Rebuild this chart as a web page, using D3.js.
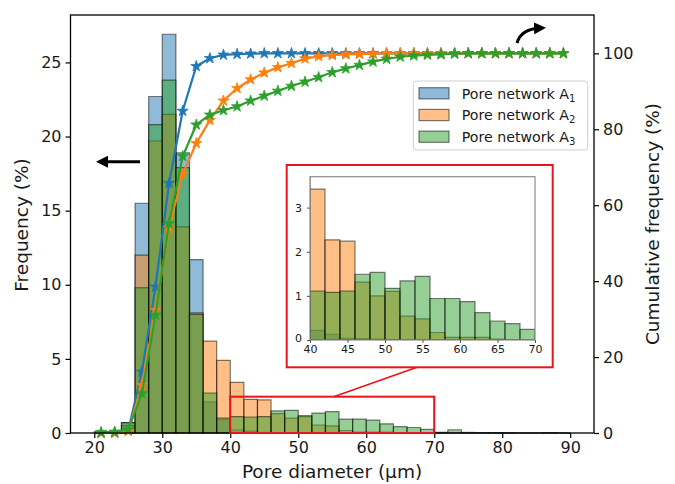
<!DOCTYPE html>
<html>
<head>
<meta charset="utf-8">
<script src="https://cdn.jsdelivr.net/npm/d3@7"></script>
<style>
  body { margin: 0; background: #fff; }
  text { font-family: "DejaVu Sans", sans-serif; fill: #1a1a1a; }
</style>
</head>
<body>
<script>
// histogram bins (left edge, width 2 um)
var binLeft = [20,22,24,26,28,30,32,34,36,38,40,42,44,46,48,50,52,54,56,58,60,62,64,66,68,70,72,74,76,78,80,82,84,86,88];
var binWidth = 2;
// bin centres, where the cumulative points sit
var centers = [21,23,25,27,29,31,33,35,37,39,41,43,45,47,49,51,53,55,57,59,61,63,65,67,69,71,73,75,77,79,81,83,85,87,89];

// frequency (%) per bin
var freqA1 = [0,0,0.7,15.5,22.7,26.9,18.9,11.7,2.1,0.9,0.22,0.13,0.04,0.03,0.02,0.01,0,0,0,0,0,0,0,0,0,0,0,0,0,0,0,0,0,0,0];
var freqA2 = [0,0,0.5,12.0,19.7,21.5,13.9,8.1,6.2,4.9,3.42,2.27,2.24,1.31,1.0,1.1,0.54,0.48,0.17,0.06,0.06,0.06,0.02,0,0,0,0,0,0,0,0,0,0,0,0];
var freqA3 = [0.1,0.05,0.7,9.8,20.8,23.8,17.9,8.0,2.7,1.0,1.11,1.08,1.11,1.49,1.53,1.17,1.34,1.44,0.94,0.94,0.87,0.62,0.43,0.37,0.24,0.05,0.22,0.04,0.02,0.02,0.01,0,0,0.02,0];

// cumulative frequency (%) at bin centres
var cumA1 = [0,0,0.7,16.1,38.5,65.8,84.8,96.6,98.7,99.6,99.8,99.9,100,100,100,100,100,100,100,100,100,100,100,100,100,100,100,100,100,100,100,100,100,100,100];
var cumA2 = [0,0,0.5,12.6,32.4,54.0,68.2,76.3,82.4,87.5,90.8,93.1,94.9,96.3,97.4,98.6,99.2,99.5,99.7,99.8,99.9,100,100,100,100,100,100,100,100,100,100,100,100,100,100];
var cumA3 = [0.2,0.3,0.9,10.4,31.1,55.2,72.9,81.2,83.8,85.0,86.0,87.5,88.8,90.1,91.4,92.5,93.7,95.0,96.0,96.9,97.8,98.5,99.1,99.4,99.6,99.7,99.9,100,100,100,100,100,100,100,100];

var seriesNames = ["1","2","3"];
var colors = ["#1f77b4","#ff7f0e","#2ca02c"];

var xTicks = [20,30,40,50,60,70,80,90];
var yTicks = [0,5,10,15,20,25];
var y2Ticks = [0,20,40,60,80,100];
var insetXTicks = [40,45,50,55,60,65,70];
var insetYTicks = [0,1,2,3];

var width = 675, height = 484;
var svg = d3.select("body").append("svg")
  .attr("width", width).attr("height", height);

// main axes
var x = d3.scaleLinear().domain([16.5, 93.5]).range([70.5, 594]);
var y = d3.scaleLinear().domain([0, 28.2]).range([433, 15]);
var y2 = d3.scaleLinear().domain([0, 110.1]).range([433, 15]);

var freqs = [freqA1, freqA2, freqA3];
var cums = [cumA1, cumA2, cumA3];

function barPath(xs, ys, left, v) {
  var x0 = xs(left), x1 = xs(left + binWidth), yb = ys(0), yt = ys(v);
  return "M" + x0 + "," + yb + "V" + yt + "H" + x1 + "V" + yb + "Z";
}

function drawBars(g, xs, ys) {
  freqs.forEach(function(f, k) {
    g.append("g").selectAll("path")
      .data(binLeft)
      .enter().append("path")
      .attr("d", function(d, i) { return barPath(xs, ys, d, f[i]); })
      .attr("fill", colors[k])
      .attr("fill-opacity", 0.5)
      .attr("stroke", "#000")
      .attr("stroke-opacity", 0.5)
      .attr("stroke-width", 1.2);
  });
}

drawBars(svg.append("g"), x, y);

// cumulative lines with star markers
var star = d3.symbol().type(d3.symbolStar).size(38);
cums.forEach(function(c, k) {
  var line = d3.line()
    .x(function(d, i) { return x(centers[i]); })
    .y(function(d) { return y2(d); });
  svg.append("path").datum(c)
    .attr("d", line)
    .attr("fill", "none")
    .attr("stroke", colors[k])
    .attr("stroke-width", 2.2);
  svg.append("g").selectAll("path")
    .data(c).enter().append("path")
    .attr("d", star)
    .attr("transform", function(d, i) { return "translate(" + x(centers[i]) + "," + y2(d) + ")"; })
    .attr("fill", colors[k])
    .attr("stroke", colors[k])
    .attr("stroke-width", 0.8);
});

// frame
svg.append("rect")
  .attr("x", 70.5).attr("y", 15).attr("width", 594 - 70.5).attr("height", 433 - 15)
  .attr("fill", "none").attr("stroke", "#000").attr("stroke-width", 1.3);

// axes
var xAxis = svg.append("g").attr("transform", "translate(0,433)")
  .call(d3.axisBottom(x).tickValues(xTicks).tickSize(5).tickPadding(4));
var yAxis = svg.append("g").attr("transform", "translate(70.5,0)")
  .call(d3.axisLeft(y).tickValues(yTicks).tickSize(5).tickPadding(4));
var y2Axis = svg.append("g").attr("transform", "translate(594,0)")
  .call(d3.axisRight(y2).tickValues(y2Ticks).tickSize(5).tickPadding(4));
[xAxis, yAxis, y2Axis].forEach(function(a) {
  a.select(".domain").remove();
  a.selectAll(".tick line").attr("stroke", "#000").attr("stroke-width", 1.2);
  a.selectAll(".tick text").attr("font-size", 16).attr("fill", "#1a1a1a")
    .attr("font-family", "DejaVu Sans");
});

// axis labels
svg.append("text").attr("x", 332).attr("y", 478).attr("text-anchor", "middle")
  .attr("font-size", 18.5).text("Pore diameter (\u00b5m)");
svg.append("text").attr("transform", "translate(28,225) rotate(-90)")
  .attr("text-anchor", "middle").attr("font-size", 18.5).text("Frequency (%)");
svg.append("text").attr("transform", "translate(659,224) rotate(-90)")
  .attr("text-anchor", "middle").attr("font-size", 18.5).text("Cumulative frequency (%)");

// zoom marker box and connector
svg.append("rect")
  .attr("x", x(40)).attr("y", y(2.45))
  .attr("width", x(70) - x(40)).attr("height", y(0) - y(2.45))
  .attr("fill", "none").attr("stroke", "#e8141c").attr("stroke-width", 2);
svg.append("line")
  .attr("x1", x(55.2)).attr("y1", y(2.45))
  .attr("x2", 417).attr("y2", 367.3)
  .attr("stroke", "#e8141c").attr("stroke-width", 1.6);

// inset
svg.append("rect")
  .attr("x", 286.7).attr("y", 165).attr("width", 266).attr("height", 202.3)
  .attr("fill", "#fff").attr("stroke", "#e8141c").attr("stroke-width", 2);

var xi = d3.scaleLinear().domain([40, 70]).range([310, 535]);
var yi = d3.scaleLinear().domain([0, 3.7]).range([340, 176.7]);

svg.append("clipPath").attr("id", "insetClip").append("rect")
  .attr("x", 310).attr("y", 176.7).attr("width", 225).attr("height", 340 - 176.7);
var inset = svg.append("g").attr("clip-path", "url(#insetClip)");
drawBars(inset, xi, yi);

svg.append("rect")
  .attr("x", 310).attr("y", 176.7).attr("width", 225).attr("height", 340 - 176.7)
  .attr("fill", "none").attr("stroke", "#8c8c8c").attr("stroke-width", 1.2);

var xiAxis = svg.append("g").attr("transform", "translate(0,340)")
  .call(d3.axisBottom(xi).tickValues(insetXTicks).tickFormat(d3.format("d")).tickSize(3).tickPadding(2));
var yiAxis = svg.append("g").attr("transform", "translate(310,0)")
  .call(d3.axisLeft(yi).tickValues(insetYTicks).tickFormat(d3.format("d")).tickSize(3).tickPadding(5));
[xiAxis, yiAxis].forEach(function(a) {
  a.select(".domain").remove();
  a.selectAll(".tick line").attr("stroke", "#555").attr("stroke-width", 1);
  a.selectAll(".tick text").attr("font-size", 11).attr("fill", "#1a1a1a")
    .attr("font-family", "DejaVu Sans");
});
// nudge the inset "0" up a little so it clears the "40" below it
yiAxis.selectAll(".tick text").filter(function(d) { return d === 0; }).attr("dy", "0.1em");

// direction arrows
var defs = svg.append("defs");
defs.append("marker").attr("id", "head")
  .attr("viewBox", "0 0 10 10").attr("refX", 5).attr("refY", 5)
  .attr("markerWidth", 4).attr("markerHeight", 4).attr("orient", "auto")
  .append("path").attr("d", "M0,0L10,5L0,10Z").attr("fill", "#000");
svg.append("line")
  .attr("x1", 140).attr("y1", 161.7).attr("x2", 102).attr("y2", 161.7)
  .attr("stroke", "#000").attr("stroke-width", 3).attr("marker-end", "url(#head)");
svg.append("path")
  .attr("d", "M517,43 Q521,29 540,28")
  .attr("fill", "none").attr("stroke", "#000").attr("stroke-width", 3)
  .attr("marker-end", "url(#head)");

// legend
var lg = svg.append("g");
lg.append("rect").attr("x", 413.3).attr("y", 81).attr("width", 174.4).attr("height", 69)
  .attr("rx", 3).attr("fill", "#fff").attr("fill-opacity", 0.8)
  .attr("stroke", "#d0d0d0").attr("stroke-width", 1);
var rowsY = [93.3, 115, 136.7];
seriesNames.forEach(function(s, k) {
  lg.append("rect").attr("x", 419).attr("y", rowsY[k] - 5.6).attr("width", 30).attr("height", 11.2)
    .attr("fill", colors[k]).attr("fill-opacity", 0.5)
    .attr("stroke", "#000").attr("stroke-opacity", 0.5).attr("stroke-width", 1.2);
  var t = lg.append("text").attr("x", 461.7).attr("y", rowsY[k] + 5.2).attr("font-size", 14.2);
  t.append("tspan").text("Pore network A");
  t.append("tspan").attr("font-size", 10).attr("dy", 3).text(s);
});
</script>
</body>
</html>
